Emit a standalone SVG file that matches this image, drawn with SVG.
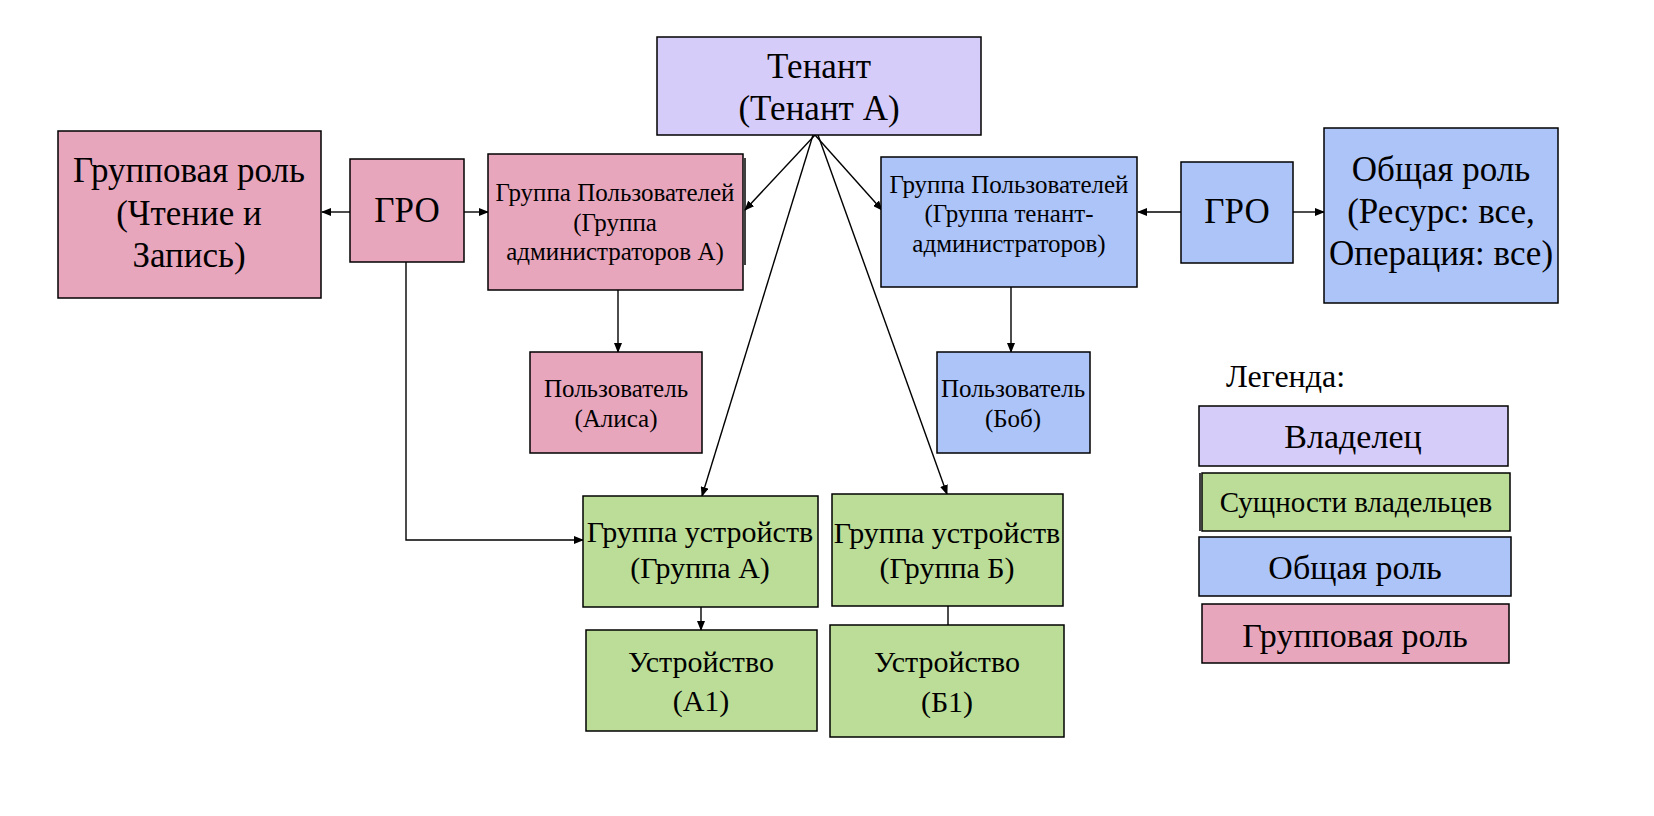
<svg xmlns="http://www.w3.org/2000/svg" width="1654" height="816" viewBox="0 0 1654 816">
<style>
.box{stroke:#000;stroke-width:1.5}
.own{fill:#d6ccfa}
.ent{fill:#bcdd97}
.gen{fill:#adc4f9}
.grp{fill:#e8a6bd}
text{font-family:"Liberation Serif","Times New Roman",serif;fill:#000;text-anchor:middle}
.b{font-size:35px}
.lb{font-size:34px}
.m{font-size:30px}
.s{font-size:25px}
.c{fill:none;stroke:#000;stroke-width:1.4}
</style>
<defs>
<marker id="ah" markerUnits="userSpaceOnUse" markerWidth="10" markerHeight="8" refX="9" refY="4" orient="auto">
<path d="M0,0 L10,4 L0,8 Z" fill="#000"/>
</marker>
</defs>
<rect width="1654" height="816" fill="#fff"/>

<g id="connectors">
<line class="c" x1="815" y1="135" x2="745" y2="210" marker-end="url(#ah)"/>
<line class="c" x1="815" y1="135" x2="882" y2="210" marker-end="url(#ah)"/>
<line class="c" x1="813" y1="135" x2="702" y2="496" marker-end="url(#ah)"/>
<line class="c" x1="818" y1="135" x2="947" y2="494" marker-end="url(#ah)"/>
<line class="c" x1="350" y1="212" x2="322" y2="212" marker-end="url(#ah)"/>
<line class="c" x1="464" y1="212" x2="488" y2="212" marker-end="url(#ah)"/>
<polyline class="c" points="406,262 406,540 583,540" marker-end="url(#ah)"/>
<line class="c" x1="618" y1="290" x2="618" y2="352" marker-end="url(#ah)"/>
<line class="c" x1="1011" y1="287" x2="1011" y2="352" marker-end="url(#ah)"/>
<line class="c" x1="1181" y1="212" x2="1138" y2="212" marker-end="url(#ah)"/>
<line class="c" x1="1293" y1="212" x2="1324" y2="212" marker-end="url(#ah)"/>
<line class="c" x1="701" y1="607" x2="701" y2="630" marker-end="url(#ah)"/>
<line class="c" x1="948" y1="606" x2="948" y2="625"/>
</g>

<g id="tenant">
<rect class="box own" x="657" y="37" width="324" height="98"/>
<text class="b" x="819" y="78">Тенант</text>
<text class="b" x="819" y="120">(Тенант А)</text>
</g>

<g id="group-role">
<rect class="box grp" x="58" y="131" width="263" height="167"/>
<text class="b" x="189" y="182">Групповая роль</text>
<text class="b" x="189" y="225">(Чтение и</text>
<text class="b" x="189" y="267">Запись)</text>
</g>

<g id="gro-left">
<rect class="box grp" x="350" y="159" width="114" height="103"/>
<text class="b" x="407" y="222">ГРО</text>
</g>

<g id="usergroup-a">
<line x1="745" y1="158" x2="745" y2="265" stroke="#000" stroke-width="1.5"/>
<rect class="box grp" x="488" y="154" width="255" height="136"/>
<text class="s" x="615" y="201">Группа Пользователей</text>
<text class="s" x="615" y="231">(Группа</text>
<text class="s" x="615" y="260">администраторов А)</text>
</g>

<g id="usergroup-admins">
<rect class="box gen" x="881" y="157" width="256" height="130"/>
<text class="s" x="1009" y="193">Группа Пользователей</text>
<text class="s" x="1009" y="222">(Группа тенант-</text>
<text class="s" x="1009" y="252">администраторов)</text>
</g>

<g id="gro-right">
<rect class="box gen" x="1181" y="162" width="112" height="101"/>
<text class="b" x="1237" y="223">ГРО</text>
</g>

<g id="generic-role">
<rect class="box gen" x="1324" y="128" width="234" height="175"/>
<text class="b" x="1441" y="181">Общая роль</text>
<text class="b" x="1441" y="223">(Ресурс: все,</text>
<text class="b" x="1441" y="265">Операция: все)</text>
</g>

<g id="user-alice">
<rect class="box grp" x="530" y="352" width="172" height="101"/>
<text class="s" x="616" y="397">Пользователь</text>
<text class="s" x="616" y="427">(Алиса)</text>
</g>

<g id="user-bob">
<rect class="box gen" x="937" y="352" width="153" height="101"/>
<text class="s" x="1013" y="397">Пользователь</text>
<text class="s" x="1013" y="427">(Боб)</text>
</g>

<g id="devgroup-a">
<rect class="box ent" x="583" y="496" width="235" height="111"/>
<text class="m" x="700" y="542">Группа устройств</text>
<text class="m" x="700" y="578">(Группа А)</text>
</g>

<g id="devgroup-b">
<rect class="box ent" x="832" y="494" width="231" height="112"/>
<text class="m" x="947" y="543">Группа устройств</text>
<text class="m" x="947" y="578">(Группа Б)</text>
</g>

<g id="device-a1">
<rect class="box ent" x="586" y="630" width="231" height="101"/>
<text class="m" x="701" y="672">Устройство</text>
<text class="m" x="701" y="711">(А1)</text>
</g>

<g id="device-b1">
<rect class="box ent" x="830" y="625" width="234" height="112"/>
<text class="m" x="947" y="672">Устройство</text>
<text class="m" x="947" y="712">(Б1)</text>
</g>

<g id="legend">
<text x="1226" y="387" style="font-size:32px;text-anchor:start">Легенда:</text>
<rect class="box own" x="1199" y="406" width="309" height="60"/>
<text class="lb" x="1353" y="448">Владелец</text>
<line x1="1200" y1="473" x2="1200" y2="531" stroke="#000" stroke-width="1.5"/>
<rect class="box ent" x="1202" y="473" width="308" height="58"/>
<text class="s" x="1356" y="512" style="font-size:29px">Сущности владельцев</text>
<rect class="box gen" x="1199" y="537" width="312" height="59"/>
<text class="lb" x="1355" y="579">Общая роль</text>
<rect class="box grp" x="1202" y="604" width="307" height="59"/>
<text class="lb" x="1355" y="647">Групповая роль</text>
</g>
</svg>
